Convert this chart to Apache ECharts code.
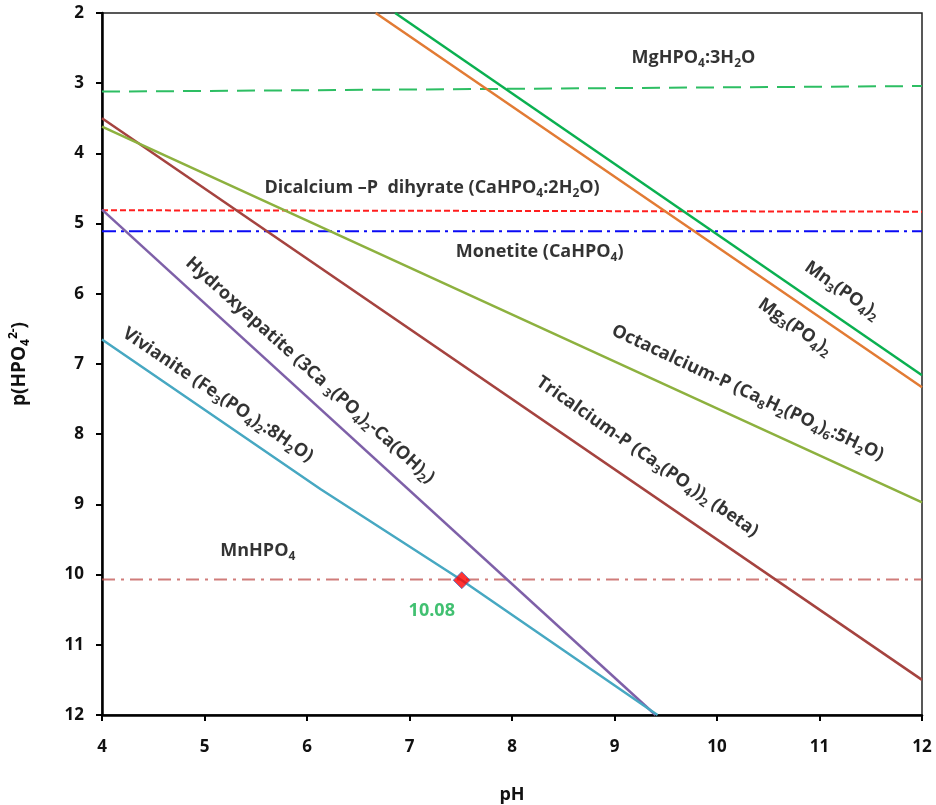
<!DOCTYPE html>
<html>
<head>
<meta charset="utf-8">
<script src="https://cdn.jsdelivr.net/npm/echarts@6/dist/echarts.min.js"></script>
<style>
  html, body { margin: 0; padding: 0; background: #fff; }
  #chart { width: 936px; height: 805px; }
</style>
</head>
<body>
<div id="chart"></div>
<script>
// Solubility lines: p(HPO4 2-) against pH
const xTicks = [4, 5, 6, 7, 8, 9, 10, 11, 12];
const yTicks = [2, 3, 4, 5, 6, 7, 8, 9, 10, 11, 12];

// horizontal phases (pH span and p-values at each end)
const flatPH = [4, 12];
const mgHPO4 = [3.12, 3.04];
const dicalcium = [4.81, 4.83];
const monetite = [5.11, 5.11];
const mnHPO4 = [10.07, 10.07];

// sloped phases
const tricalciumPH = [4, 12];
const tricalcium = [3.5, 11.5];
const octacalciumPH = [4, 12];
const octacalcium = [3.62, 8.97];
const mg3PH = [6.67, 12];
const mg3 = [2, 7.33];
const mn3PH = [6.86, 12];
const mn3 = [2, 7.16];
const hydroxyPH = [4, 9.4];
const hydroxy = [4.8, 12];
const vivianitePH = [4, 6.13, 7.51, 9.42];
const vivianite = [6.65, 8.78, 10.08, 12];

// equilibrium point
const pointPH = 7.51;
const pointP = 10.08;

// phase labels: text, anchor (pH, p), angle
const labelText = [
  'MgHPO{s|4}:3H{s|2}O',
  'Dicalcium –P  dihyrate (CaHPO{s|4}:2H{s|2}O)',
  'Monetite (CaHPO{s|4})',
  'MnHPO{s|4}',
  'Hydroxyapatite (3Ca {s|3}(PO{s|4}){s|2}-Ca(OH){s|2})',
  'Vivianite (Fe{s|3}(PO{s|4}){s|2}:8H{s|2}O)',
  'Tricalcium-P (Ca{s|3}(PO{s|4})){s|2} (beta)',
  'Octacalcium-P (Ca{s|8}H{s|2}(PO{s|4}){s|6}:5H{s|2}O)',
  'Mg{s|3}(PO{s|4}){s|2}',
  'Mn{s|3}(PO{s|4}){s|2}'
];
const labelPH = [9.77, 7.22, 8.27, 5.52, 6.03, 5.13, 9.32, 10.30, 10.76, 11.22];
const labelP = [2.64, 4.49, 5.40, 9.66, 7.09, 7.44, 8.32, 7.41, 6.47, 5.95];
const labelAngle = [0, 0, 0, 0, -42, -34, -35, -25, -35, -35];

const FONT = '"Open Sans", Lato, sans-serif';

function pairs(xs, ys) {
  return xs.map((x, i) => [x, ys[i]]);
}

const richStyles = {
  s: { fontSize: 12, lineHeight: 12, verticalAlign: 'bottom', fontWeight: 'bold', fontFamily: FONT, color: '#000' },
  u: { fontSize: 12, lineHeight: 12, verticalAlign: 'top', fontWeight: 'bold', fontFamily: FONT, color: '#000' }
};

function lineSeries(name, xs, ys, color, width, type, opacity) {
  return {
    name: name,
    type: 'line',
    data: pairs(xs, ys),
    symbol: 'none',
    silent: true,
    clip: true,
    lineStyle: { color: color, width: width, type: type, opacity: opacity == null ? 1 : opacity }
  };
}

const chart = echarts.init(document.getElementById('chart'), null, { renderer: 'canvas' });

const option = {
  animation: false,
  backgroundColor: '#fff',
  grid: {
    left: 102, right: 14, top: 13, bottom: 90,
    outerBoundsMode: 'none',
    containLabel: false,
    show: true, borderColor: '#222', borderWidth: 1.5, backgroundColor: 'transparent'
  },
  xAxis: {
    type: 'value',
    min: xTicks[0], max: xTicks[xTicks.length - 1], interval: 1,
    name: 'pH',
    nameLocation: 'middle',
    nameGap: 71,
    nameTextStyle: { fontFamily: FONT, fontSize: 18, fontWeight: 'bold', color: '#111' },
    axisLine: { lineStyle: { color: '#000', width: 2.5 } },
    axisTick: { show: true, length: 6, lineStyle: { color: '#000', width: 2 } },
    axisLabel: { fontFamily: FONT, fontSize: 17, fontWeight: 'bold', color: '#111', margin: 24 },
    splitLine: { show: false }
  },
  yAxis: {
    type: 'value',
    inverse: true,
    min: yTicks[0], max: yTicks[yTicks.length - 1], interval: 1,
    name: 'p(HPO{s|4}{u|2-})',
    nameLocation: 'middle',
    nameGap: 70,
    nameRotate: 90,
    nameTextStyle: { fontFamily: FONT, fontSize: 19, fontWeight: 'bold', color: '#111', lineHeight: 24, rich: richStyles },
    axisLine: { lineStyle: { color: '#000', width: 2.5 } },
    axisTick: { show: true, length: 6, lineStyle: { color: '#000', width: 2 } },
    axisLabel: { fontFamily: FONT, fontSize: 17, fontWeight: 'bold', color: '#111', margin: 18 },
    splitLine: { show: false }
  },
  series: [
    lineSeries('MgHPO4:3H2O', flatPH, mgHPO4, '#2DBE63', 2, [18, 9]),
    lineSeries('Dicalcium-P dihydrate', flatPH, dicalcium, '#FF1E1E', 2, [6, 3]),
    lineSeries('Monetite', flatPH, monetite, '#0A0AF5', 2, [14, 5, 3, 5]),
    lineSeries('MnHPO4', flatPH, mnHPO4, '#C0504D', 2, [13, 6, 3, 6], 0.75),
    lineSeries('Tricalcium-P', tricalciumPH, tricalcium, '#A5433F', 2.5, 'solid'),
    lineSeries('Octacalcium-P', octacalciumPH, octacalcium, '#8DB13F', 2.5, 'solid'),
    lineSeries('Mg3(PO4)2', mg3PH, mg3, '#E27B34', 2.5, 'solid'),
    lineSeries('Mn3(PO4)2', mn3PH, mn3, '#0AB050', 2.5, 'solid'),
    lineSeries('Hydroxyapatite', hydroxyPH, hydroxy, '#7E60A8', 2.5, 'solid'),
    lineSeries('Vivianite', vivianitePH, vivianite, '#47A8C2', 2.5, 'solid'),
    {
      name: 'point',
      type: 'scatter',
      silent: true,
      symbol: 'diamond',
      symbolSize: 17,
      z: 5,
      itemStyle: { color: '#FF0000', borderColor: '#4472C4', borderWidth: 1 },
      data: [[pointPH, pointP]],
      label: {
        show: true,
        position: 'bottom',
        offset: [-30, 8],
        formatter: (p) => p.value[1].toFixed(2),
        fontFamily: FONT, fontSize: 18, fontWeight: 'bold', color: '#12B04E'
      }
    },
    {
      name: 'phase labels',
      type: 'scatter',
      silent: true,
      symbolSize: 1,
      z: 6,
      itemStyle: { color: 'rgba(0,0,0,0)' },
      data: labelText.map((t, i) => ({
        value: [labelPH[i], labelP[i]],
        label: {
          show: true,
          position: 'inside',
          rotate: labelAngle[i],
          formatter: t,
          fontFamily: FONT, fontSize: 18, fontWeight: 'bold', color: '#000',
          lineHeight: 24,
          rich: richStyles
        }
      }))
    }
  ]
};

chart.setOption(option);
</script>
</body>
</html>
